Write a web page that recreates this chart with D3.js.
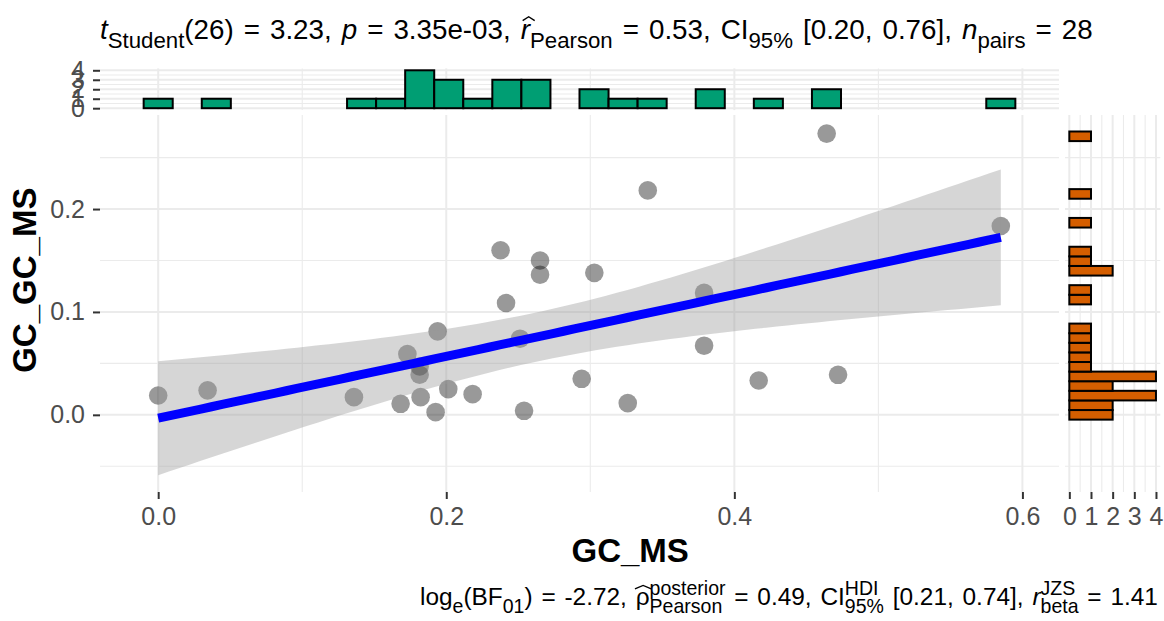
<!DOCTYPE html>
<html>
<head>
<meta charset="utf-8">
<script src="https://cdn.jsdelivr.net/npm/d3@7/dist/d3.min.js"></script>
<style>
  body { margin: 0; background: #fff; }
  text { font-family: "Liberation Sans", Arial, sans-serif; white-space: pre; }
</style>
</head>
<body>
<svg id="chart" width="1164" height="621"></svg>
<script>
// x = GC_MS, y = GC_GC_MS, one entry per pair (n = 28)
var gcMS = [0.000, 0.0343, 0.1359, 0.173, 0.1815, 0.1815, 0.1683, 0.1822, 0.1926, 0.194,
            0.2014, 0.2183, 0.2377, 0.2415, 0.2512, 0.254, 0.2651, 0.2651, 0.294, 0.3028,
            0.326, 0.3399, 0.379, 0.379, 0.4169, 0.4641, 0.472, 0.585];
var gcGcMS = [0.0188, 0.0238, 0.0172, 0.0591, 0.047, 0.039, 0.0107, 0.0172, 0.0026, 0.0811,
              0.025, 0.0201, 0.160, 0.1087, 0.074, 0.0039, 0.150, 0.1362, 0.035, 0.138,
              0.0114, 0.2181, 0.1185, 0.0672, 0.0334, 0.2733, 0.0389, 0.1835];

var xTicks = [0, 0.2, 0.4, 0.6];
var xMinor = [0.1, 0.3, 0.5];
var yTicks = [0, 0.1, 0.2];
var yMinor = [-0.05, 0.05, 0.15, 0.25];
var countTicks = [0, 1, 2, 3, 4];
var countMinor = [0.5, 1.5, 2.5, 3.5];

var nBins = 30;
var tCrit = 2.0555; // qt(0.975, 26)

var titleSegs = [
  {t: "t", it: true}, {sub: "Student"}, {t: "(26) = 3.23, "}, {t: "p", it: true},
  {t: " = 3.35e-03, "}, {t: "r", it: true, hat: true}, {sub: "Pearson"},
  {t: " = 0.53, CI"}, {sub: "95%"}, {t: " [0.20, 0.76], "}, {t: "n", it: true},
  {sub: "pairs"}, {t: " = 28"}
];
var captionSegs = [
  {t: "log"}, {sub: "e"}, {t: "(BF"}, {sub: "01"}, {t: ") = -2.72, "},
  {t: "\u03C1", hat: true}, {sup: "posterior", sub: "Pearson"}, {t: " = 0.49, CI"},
  {sup: "HDI", sub: "95%"}, {t: " [0.21, 0.74], "}, {t: "r", it: true},
  {sup: "JZS", sub: "beta"}, {t: " = 1.41"}
];

var svg = d3.select("#chart");

var main = {left: 100, right: 1059, top: 115, bottom: 492};
var topP = {top: 68.4, bottom: 110.1};
var side = {left: 1065, right: 1160.3};

var x = d3.scaleLinear().domain([-0.0404, 0.6254]).range([main.left, main.right]);
var y = d3.scaleLinear().domain([-0.075, 0.2914]).range([main.bottom, main.top]);
var cy = d3.scaleLinear().domain([-0.2, 4.2]).range([topP.bottom, topP.top]);
var cx = d3.scaleLinear().domain([-0.2, 4.2]).range([side.left, side.right]);

var gridCol = "#EBEBEB";

function hLines(g, vals, scale, x1, x2, w) {
  g.selectAll(null).data(vals).enter().append("line")
    .attr("x1", x1).attr("x2", x2)
    .attr("y1", scale).attr("y2", scale)
    .attr("stroke", gridCol).attr("stroke-width", w);
}
function vLines(g, vals, scale, y1, y2, w) {
  g.selectAll(null).data(vals).enter().append("line")
    .attr("x1", scale).attr("x2", scale)
    .attr("y1", y1).attr("y2", y2)
    .attr("stroke", gridCol).attr("stroke-width", w);
}

// grids
var grid = svg.append("g");
hLines(grid, yMinor, y, main.left, main.right, 1.1);
hLines(grid, yTicks, y, main.left, main.right, 2);
vLines(grid, xMinor, x, main.top, main.bottom, 1.1);
vLines(grid, xTicks, x, main.top, main.bottom, 2);

hLines(grid, countMinor, cy, main.left, main.right, 1.1);
hLines(grid, countTicks, cy, main.left, main.right, 2);
vLines(grid, xMinor, x, topP.top, topP.bottom, 1.1);
vLines(grid, xTicks, x, topP.top, topP.bottom, 2);

hLines(grid, yMinor, y, side.left, side.right, 1.1);
hLines(grid, yTicks, y, side.left, side.right, 2);
vLines(grid, countMinor, cx, main.top, main.bottom, 1.1);
vLines(grid, countTicks, cx, main.top, main.bottom, 2);

// points
var pts = gcMS.map(function (d, i) { return [d, gcGcMS[i]]; });
svg.append("g").selectAll("circle").data(pts).enter().append("circle")
  .attr("cx", function (d) { return x(d[0]); })
  .attr("cy", function (d) { return y(d[1]); })
  .attr("r", 9.3)
  .attr("fill", "#000").attr("fill-opacity", 0.4);

// linear fit with 95% confidence band
var n = pts.length;
var mx = d3.mean(gcMS), my = d3.mean(gcGcMS);
var sxx = d3.sum(gcMS, function (v) { return (v - mx) * (v - mx); });
var sxy = d3.sum(pts, function (d) { return (d[0] - mx) * (d[1] - my); });
var slope = sxy / sxx, icpt = my - slope * mx;
var sse = d3.sum(pts, function (d) { var r = d[1] - (icpt + slope * d[0]); return r * r; });
var sres = Math.sqrt(sse / (n - 2));
var xr = d3.extent(gcMS);
var grid80 = d3.range(80).map(function (i) { return xr[0] + (xr[1] - xr[0]) * i / 79; });
var fit = grid80.map(function (v) {
  var f = icpt + slope * v;
  var se = sres * Math.sqrt(1 / n + (v - mx) * (v - mx) / sxx);
  return {x: v, f: f, lo: f - tCrit * se, hi: f + tCrit * se};
});

svg.append("path").datum(fit)
  .attr("d", d3.area().x(function (d) { return x(d.x); })
    .y0(function (d) { return y(d.lo); }).y1(function (d) { return y(d.hi); }))
  .attr("fill", "#999999").attr("fill-opacity", 0.4);
svg.append("path").datum(fit)
  .attr("d", d3.line().x(function (d) { return x(d.x); }).y(function (d) { return y(d.f); }))
  .attr("fill", "none").attr("stroke", "#0000FF").attr("stroke-width", 9);

// marginal histograms (ggplot-style 30 bins centred on multiples of the width)
function binsFor(vals) {
  var ext = d3.extent(vals);
  var w = (ext[1] - ext[0]) / (nBins - 1);
  var k0 = Math.floor(ext[0] / w + 0.5), k1 = Math.floor(ext[1] / w + 0.5);
  var th = d3.range(k0, k1).map(function (k) { return (k + 0.5) * w; });
  return d3.bin().domain([(k0 - 0.5) * w, (k1 + 0.5) * w]).thresholds(th)(vals);
}

var xb = binsFor(gcMS);
svg.append("g").selectAll("rect").data(xb).enter().append("rect")
  .attr("x", function (d) { return x(d.x0); })
  .attr("width", function (d) { return x(d.x1) - x(d.x0); })
  .attr("y", function (d) { return cy(d.length); })
  .attr("height", function (d) { return cy(0) - cy(d.length); })
  .attr("fill", "#009E73").attr("stroke", "#000").attr("stroke-width", 2);

var yb = binsFor(gcGcMS);
svg.append("g").selectAll("rect").data(yb).enter().append("rect")
  .attr("y", function (d) { return y(d.x1); })
  .attr("height", function (d) { return y(d.x0) - y(d.x1); })
  .attr("x", cx(0))
  .attr("width", function (d) { return cx(d.length) - cx(0); })
  .attr("fill", "#D55E00").attr("stroke", "#000").attr("stroke-width", 2);

// axes
var tickCol = "#333333", labCol = "#4D4D4D", fsTick = 25;
function styleAxis(g) {
  g.select(".domain").remove();
  g.selectAll(".tick line").attr("stroke", tickCol).attr("stroke-width", 2);
  g.selectAll(".tick text").attr("fill", labCol).attr("font-size", fsTick)
    .attr("font-family", "Liberation Sans, Arial, sans-serif");
}
svg.append("g").attr("transform", "translate(0," + main.bottom + ")")
  .call(d3.axisBottom(x).tickValues(xTicks).tickFormat(d3.format(".1f")).tickSize(7).tickPadding(8))
  .call(styleAxis);
svg.append("g").attr("transform", "translate(" + main.left + ",0)")
  .call(d3.axisLeft(y).tickValues(yTicks).tickFormat(d3.format(".1f")).tickSize(7).tickPadding(8))
  .call(styleAxis);
svg.append("g").attr("transform", "translate(" + main.left + ",0)")
  .call(d3.axisLeft(cy).tickValues(countTicks).tickFormat(d3.format("d")).tickSize(7).tickPadding(8))
  .call(styleAxis);
svg.append("g").attr("transform", "translate(0," + main.bottom + ")")
  .call(d3.axisBottom(cx).tickValues(countTicks).tickFormat(d3.format("d")).tickSize(7).tickPadding(8))
  .call(styleAxis);

// axis titles
svg.append("text").attr("x", (main.left + side.right) / 2).attr("y", 562)
  .attr("text-anchor", "middle").attr("font-weight", "bold").attr("font-size", 33)
  .text("GC_MS");
svg.append("text").attr("transform", "translate(36," + (topP.top + main.bottom) / 2 + ") rotate(-90)")
  .attr("text-anchor", "middle").attr("font-weight", "bold").attr("font-size", 33)
  .text("GC_GC_MS");

// rich text with italics, sub/superscripts and hats; the font size is chosen
// so that the line (with slightly wide, plotmath-like spaces) spans x0..x1
function richText(segs, x0, x1, py, spEm) {
  var g = svg.append("g");
  var base = 100;
  function measure(str, size, it) {
    var el = g.append("text").attr("font-size", size).attr("font-style", it ? "italic" : "normal").text(str);
    var w = el.node().getComputedTextLength();
    el.remove();
    return w;
  }
  var nat = 0, nsp = 0;
  segs.forEach(function (s) {
    if (s.t != null) {
      s.t.split(" ").forEach(function (wd, i) { if (i > 0) nsp++; if (wd) nat += measure(wd, base, s.it); });
    } else {
      nat += Math.max(s.sub ? measure(s.sub, base * 0.8) : 0, s.sup ? measure(s.sup, base * 0.8) : 0);
    }
  });
  var fs = base * (x1 - x0) / (nat + nsp * spEm * base);
  var sp = spEm * fs, small = fs * 0.8;
  var pos = x0;
  function piece(str, px, dy, size, it) {
    var el = g.append("text").attr("x", px).attr("y", py + dy).attr("font-size", size)
      .attr("font-style", it ? "italic" : "normal").text(str);
    return el.node().getComputedTextLength();
  }
  segs.forEach(function (s) {
    if (s.t != null) {
      var start = pos;
      s.t.split(" ").forEach(function (wd, i) {
        if (i > 0) pos += sp;
        if (wd) pos += piece(wd, pos, 0, fs, s.it);
      });
      if (s.hat) {
        var w = pos - start;
        var lx = start + (s.it ? fs * 0.1 : 0), hw = w + fs * 0.04;
        var top = py - fs * 0.8, bot = py - fs * 0.66;
        g.append("path")
          .attr("d", "M" + (lx - fs * 0.03) + "," + bot + "L" + (lx + hw / 2) + "," + top + "L" + (lx + hw + fs * 0.03) + "," + bot)
          .attr("fill", "none").attr("stroke", "#000").attr("stroke-width", 1.4);
      }
    } else {
      var w1 = s.sub ? piece(s.sub, pos, fs * 0.32, small, false) : 0;
      var w2 = s.sup ? piece(s.sup, pos, -fs * 0.43, small, false) : 0;
      pos += Math.max(w1, w2);
    }
  });
  return g;
}

richText(titleSegs, 100, 1093, 39, 0.36);
richText(captionSegs, 420, 1158, 605, 0.36);
</script>
</body>
</html>
